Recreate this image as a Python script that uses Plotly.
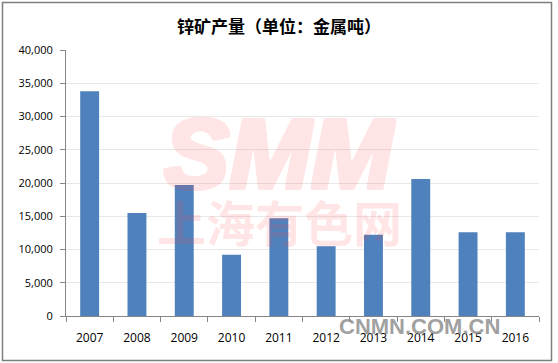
import plotly.graph_objects as go

years = ["2007", "2008", "2009", "2010", "2011", "2012", "2013", "2014", "2015", "2016"]
output = [33800, 15500, 19700, 9200, 14700, 10500, 12200, 20600, 12600, 12600]
y_ticks = [0, 5000, 10000, 15000, 20000, 25000, 30000, 35000, 40000]
y_tick_labels = ["0", "5,000", "10,000", "15,000", "20,000", "25,000", "30,000", "35,000", "40,000"]
title_text = "锌矿产量（单位：金属吨）"

W, H = 558, 363
L, R, T, B = 66, 19, 50, 47
pw, ph = W - L - R, H - T - B

def px(x):
    return (x - L) / pw

def py(y):
    return (H - B - y) / ph

fig = go.Figure()
fig.add_trace(go.Bar(x=years, y=output, marker=dict(color="#4F81BD", line=dict(width=0)),
                     width=0.4))

wm = "#FF4040"
thick = ", ".join(f"{dx}px {dy}px 0 {wm}" for dx, dy in [(2, 0), (-2, 0), (0, 2), (0, -2), (2, 2), (-2, -2), (2, -2), (-2, 2)])

annotations = [
    dict(text="<b>" + title_text + "</b>", x=px(279), y=py(25), xref="paper", yref="paper",
         showarrow=False, font=dict(family="Noto Sans CJK SC", size=17, color="#000000"),
         xanchor="center", yanchor="middle"),
    dict(text="<b><i>SMM</i></b>", x=px(279), y=py(154), xref="paper", yref="paper",
         showarrow=False, font=dict(family="Liberation Sans", size=98, color=wm, shadow=thick),
         opacity=0.13, xanchor="center", yanchor="middle"),
    dict(text="<b>上海有色网</b>", x=px(279), y=py(220), xref="paper", yref="paper",
         showarrow=False, font=dict(family="Noto Sans CJK SC", size=49, color=wm),
         opacity=0.13, xanchor="center", yanchor="middle"),
    dict(text="<b>CNMN.COM.CN</b>", x=px(419), y=py(326), xref="paper", yref="paper",
         showarrow=False, font=dict(family="Liberation Sans", size=22, color="rgba(135,135,135,0.8)"),
         xanchor="center", yanchor="middle"),
]

fig.update_layout(
    width=W, height=H,
    margin=dict(l=L, r=R, t=T, b=B),
    paper_bgcolor="white", plot_bgcolor="white",
    showlegend=False,
    bargap=0.6,
    annotations=annotations,
    shapes=[dict(type="rect", xref="paper", yref="paper",
                 x0=px(2.5), x1=px(551.5), y0=py(360.5), y1=py(2.5),
                 line=dict(color="#7f7f7f", width=1.5), layer="above")],
    font=dict(family="Open Sans", size=11, color="#000000"),
)
fig.update_xaxes(type="category", showline=True, linecolor="#868686", linewidth=1,
                 ticks="outside", tickcolor="#868686", ticklen=5, tickson="boundaries",
                 ticklabelstandoff=11,
                 showgrid=False, tickfont=dict(size=12, color="#000000"))
fig.update_yaxes(range=[0, 40000], tickvals=y_ticks, ticktext=y_tick_labels,
                 showline=True, linecolor="#868686", linewidth=1,
                 ticks="outside", tickcolor="#868686", ticklen=5,
                 ticklabelstandoff=5,
                 showgrid=True, gridcolor="#E8E8E8", gridwidth=1, zeroline=False,
                 tickfont=dict(size=11, color="#000000"))

fig.write_html("out.html", config={"displayModeBar": False},
               post_script="document.body.style.margin='0';document.body.style.overflow='hidden';")
